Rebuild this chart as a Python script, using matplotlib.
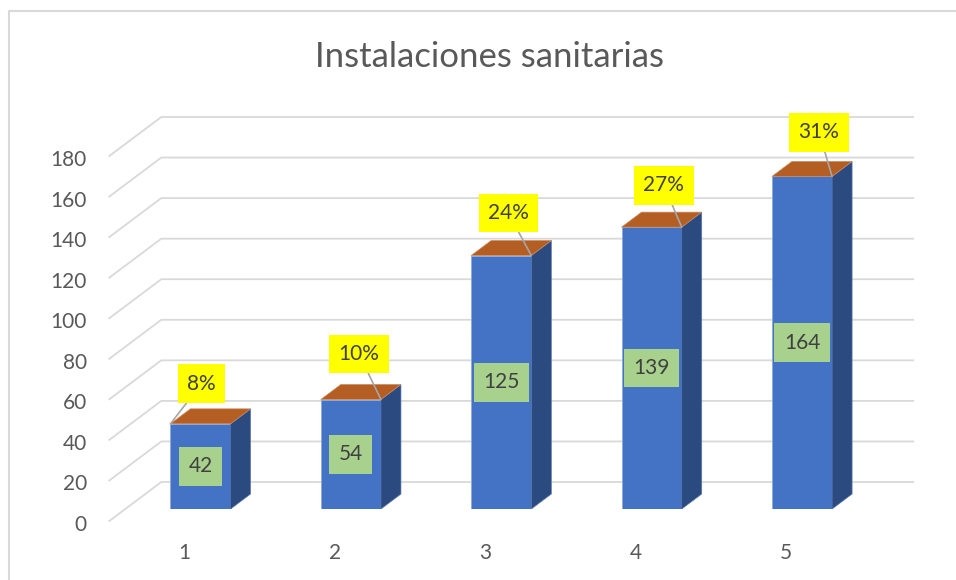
import matplotlib
matplotlib.use("Agg")
import matplotlib.pyplot as plt
from matplotlib.lines import Line2D
from matplotlib.patches import Polygon
from matplotlib.transforms import Affine2D, IdentityTransform

# datos
categories = ["1", "2", "3", "4", "5"]
values = [42, 54, 125, 139, 164]
pct_labels = ["8%", "10%", "24%", "27%", "31%"]
yticks = list(range(0, 181, 20))

plt.rcParams['font.family'] = ['Lato', 'DejaVu Sans']

W, H = 956, 580
fig = plt.figure(figsize=(W / 100, H / 100), dpi=100)
ax = fig.add_axes([125.3 / W, 71 / H, 751.9 / W, 365 / H])
ax.set_xlim(0.5, 5.5)
ax.set_ylim(0, 180)
ax.axis('off')

grid_c = '#D9D9D9'
text_c = '#595959'
wall = (36, 27)     # desplazamiento de la pared del fondo (px)
front = (-16, -12)  # plano frontal de la base
depth = (20, 15)    # profundidad de las columnas


def shift(dx, dy):
    return ax.transData + Affine2D().translate(dx, dy)


def px(x, y):
    return ax.transData.transform((x, y))


# lineas de cuadricula (pared lateral + fondo)
for v in yticks:
    a = px(0.5, v)
    b = px(5.5, v)
    xs_ = [a[0] + front[0], a[0] + wall[0], b[0] + wall[0]]
    ys_ = [a[1] + front[1], a[1] + wall[1], b[1] + wall[1]]
    ax.add_line(Line2D(xs_, ys_, transform=IdentityTransform(), color=grid_c,
                       lw=1.3, clip_on=False, zorder=1))
    ax.text(0.5, v, str(v), transform=shift(-38.5, -22), ha='right',
            va='baseline', fontsize=15, color=text_c)

xs = list(range(1, len(values) + 1))
w = 0.4

# columnas
ax.bar(xs, values, width=w, color='#4472C4', edgecolor='#8EA9DB',
       linewidth=0.6, zorder=3)
for x, v in zip(xs, values):
    p0 = px(x + w / 2, 0)
    p1 = px(x + w / 2, v)
    side = [p0, p1, (p1[0] + depth[0], p1[1] + depth[1]),
            (p0[0] + depth[0], p0[1] + depth[1])]
    ax.add_patch(Polygon(side, closed=True, transform=IdentityTransform(),
                         fc='#2B4A80', ec='#5B78AA', lw=0.5, zorder=3,
                         clip_on=False))
    q0 = px(x - w / 2, v)
    top = [q0, p1, (p1[0] + depth[0], p1[1] + depth[1]),
           (q0[0] + depth[0], q0[1] + depth[1])]
    ax.add_patch(Polygon(top, closed=True, transform=IdentityTransform(),
                         fc='#B55E24', ec='#C98A5E', lw=0.5, zorder=3,
                         clip_on=False))

# etiquetas de valor
for x, v in zip(xs, values):
    ax.text(x, v / 2, str(v), ha='center', va='center', fontsize=15,
            color='#404040', zorder=5,
            bbox=dict(boxstyle='square,pad=0.45', fc='#A9D18E', ec='none'))

# etiquetas de porcentaje
pct_side = [-1, 1, 1, 1, 1]
pct_off = [(31, 40), (-22, 45.5), (-23, 42.5), (-18, 42), (-13, 44)]
for x, v, lbl, s, off in zip(xs, values, pct_labels, pct_side, pct_off):
    ax.annotate(lbl, xy=(x + s * w / 2, v), xytext=off,
                textcoords='offset pixels', ha='center', va='center',
                fontsize=15, color='#404040', zorder=6,
                bbox=dict(boxstyle='square,pad=0.45', fc='#FFFF00', ec='none'),
                arrowprops=dict(arrowstyle='-', color='#A6A6A6', lw=1.2,
                                shrinkA=0, shrinkB=0))

# categorias
for x, c in zip(xs, categories):
    ax.text(x, 0, c, transform=shift(-16, -50), ha='center', va='baseline',
            fontsize=15, color=text_c)

fig.text(489.5 / W, (H - 67.3) / H, "Instalaciones sanitarias", ha='center',
         va='baseline', fontsize=25, color=text_c)

# borde del grafico
fig.add_artist(Line2D([9 / W, 9 / W, 1.01], [-0.01, (H - 11) / H, (H - 11) / H],
                      transform=fig.transFigure, color=grid_c, lw=1.5))

fig.savefig("out.png", dpi=100)
